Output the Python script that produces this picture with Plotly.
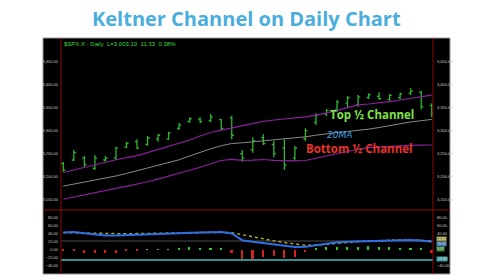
import plotly.graph_objects as go

# ---------------- data ----------------
bar_index = list(range(36))
open_ = [3228, 3236, 3240, 3218, 3236, 3240, 3264, 3276, 3270, 3282, 3282, 3305, 3320, 3325, 3322, 3324,
         3328, 3250, 3258, 3285, 3270, 3262, 3240, 3282, 3318, 3336, 3345, 3360, 3356, 3372, 3375, 3368,
         3372, 3382, 3384, 3355]
high = [3232.3, 3257.8, 3244.8, 3246.9, 3244.8, 3265.0, 3275.9, 3281.2, 3288.4, 3292.7, 3297.7, 3317.4,
        3329.1, 3329.1, 3336.3, 3325.4, 3332.6, 3257.8, 3285.5, 3292.1, 3278.1, 3281.2, 3266.6, 3305.1,
        3337.8, 3346.6, 3366.8, 3375.6, 3377.7, 3381.4, 3383.6, 3379.9, 3382.8, 3392.3, 3386.5, 3359.6]
low = [3210.5, 3233.9, 3221.4, 3214.2, 3232.3, 3236.0, 3261.5, 3260.0, 3267.2, 3275.9, 3279.6, 3301.4,
       3317.4, 3316.0, 3318.2, 3301.4, 3281.2, 3232.3, 3252.0, 3268.7, 3241.9, 3214.2, 3233.9, 3277.5,
       3312.3, 3332.0, 3340.7, 3349.4, 3352.2, 3369.0, 3366.8, 3364.7, 3368.4, 3377.7, 3346.6, 3329.1]
close = [3214, 3252, 3226, 3240, 3240, 3262, 3272, 3262, 3284, 3290, 3295, 3312, 3326, 3320, 3330, 3305,
         3290, 3240, 3278, 3272, 3250, 3225, 3262, 3300, 3334, 3344, 3362, 3372, 3373, 3378, 3370, 3377,
         3380, 3386, 3352, 3338]

upper_channel = [3208.8, 3214.5, 3220.1, 3226.0, 3231.7, 3236.5, 3241.1, 3245.6, 3252.0, 3258.9, 3265.7,
                 3272.0, 3279.6, 3288.4, 3296.0, 3301.0, 3305.8, 3311.0, 3315.8, 3320.2, 3323.2, 3325.2,
                 3327.2, 3330.2, 3333.9, 3338.5, 3343.7, 3350.3, 3356.2, 3358.1, 3360.3, 3363.1, 3366.8,
                 3370.5, 3374.3, 3377.3]
ma20 = [3179.1, 3183.3, 3187.4, 3191.6, 3195.7, 3201.2, 3206.6, 3212.7, 3218.8, 3224.5, 3229.9, 3236.5,
        3244.8, 3252.8, 3260.5, 3267.0, 3272.0, 3273.5, 3275.7, 3277.9, 3280.1, 3281.8, 3284.0, 3286.6,
        3290.1, 3293.8, 3296.0, 3298.2, 3300.3, 3303.2, 3306.9, 3311.2, 3316.0, 3318.9, 3321.7, 3324.5]
lower_channel = [3150.4, 3155.4, 3160.2, 3165.2, 3170.0, 3174.3, 3178.7, 3183.3, 3188.5, 3194.4, 3200.3,
                 3206.6, 3213.6, 3220.3, 3227.8, 3234.9, 3237.3, 3235.2, 3235.6, 3237.1, 3235.2, 3233.9,
                 3233.9, 3234.9, 3240.0, 3244.8, 3249.6, 3254.8, 3259.4, 3263.1, 3264.6, 3265.9, 3267.2,
                 3267.9, 3268.3, 3268.7]

osc_blue = [43.1, 44.6, 41.4, 38.1, 35.6, 35.8, 36.6, 37.1, 37.6, 38.4, 39.4, 41.4, 42.9, 43.6, 44.4, 44.6,
            40.9, 24.0, 20.0, 17.0, 14.2, 9.9, 6.9, 7.7, 11.9, 16.5, 19.0, 20.0, 20.7, 22.3, 23.3, 23.8,
            24.3, 24.5, 23.3, 20.0]
osc_signal = [43.1, 42.6, 41.4, 40.1, 39.6, 39.9, 40.1, 40.6, 40.9, 41.4, 41.9, 42.6, 43.4, 43.9, 44.1,
              43.9, 42.9, 37.6, 32.1, 27.6, 22.5, 18.2, 14.5, 11.2, 11.9, 14.5, 17.0, 19.0, 20.5, 22.0,
              23.3, 24.0, 24.5, 24.3, 23.3, 22.0]
histogram = [-2, -1, -8, -8, -9, -7, -4, -3, 1, 1, 1, 5, 6, 3, 3, 2, -7, -25, -24, -19, -16, -21, -19, -6,
             5, 8, 6, 8, 8, 9, 8, 6, 5, 5, 2, -8]
level_upper = 22
level_lower = -25.8

price_ticks = [3150, 3200, 3250, 3300, 3350, 3400, 3450]
osc_ticks = [-40, -20, 0, 20, 40, 60, 80]
osc_ticks_right = [-40, 40, 60, 80]
price_range = [3127, 3502]
osc_range = [-58.5, 100]
x_range = [-0.22, 35.12]

flag_texts = ["22.04", "20.03", "3.97", "-25.80"]

header_text = "$SPX.X - Daily  L=3,003.10  11.33  0.38%"
title_text = "Keltner Channel on Daily Chart"

W, H = 497, 280
def px(x): return x / W
def py(y): return 1 - y / H

fig = go.Figure()

# channel lines
fig.add_trace(go.Scatter(x=bar_index, y=ma20, mode="lines", line=dict(color="#8a8a8a", width=1),
                         hoverinfo="skip", showlegend=False))
fig.add_trace(go.Scatter(x=bar_index, y=upper_channel, mode="lines", line=dict(color="#8e1f9e", width=1.2),
                         hoverinfo="skip", showlegend=False))
fig.add_trace(go.Scatter(x=bar_index, y=lower_channel, mode="lines", line=dict(color="#8e1f9e", width=1.2),
                         hoverinfo="skip", showlegend=False))
# price bars
fig.add_trace(go.Ohlc(x=bar_index, open=open_, high=high, low=low, close=close, tickwidth=0.2,
                      increasing=dict(line=dict(color="#2fb52f", width=1.3)),
                      decreasing=dict(line=dict(color="#2fb52f", width=1.3)),
                      showlegend=False, hoverinfo="skip"))

# oscillator panel
fig.add_trace(go.Scatter(x=[x_range[0], x_range[1]], y=[level_upper, level_upper], mode="lines",
                         line=dict(color="#4a4a4a", width=1.2), yaxis="y2", showlegend=False, hoverinfo="skip"))
fig.add_trace(go.Scatter(x=[x_range[0], x_range[1]], y=[level_lower, level_lower], mode="lines",
                         line=dict(color="#2a8f8f", width=2), yaxis="y2", showlegend=False, hoverinfo="skip"))
fig.add_trace(go.Bar(x=bar_index, y=histogram, width=0.16, yaxis="y2",
                     marker=dict(color=["#2ecc2e" if v >= 0 else "#d42020" for v in histogram], line=dict(width=0)),
                     showlegend=False, hoverinfo="skip"))
fig.add_trace(go.Scatter(x=bar_index, y=osc_signal, mode="lines", line=dict(color="#a8a832", width=1.5, dash="dot"),
                         yaxis="y2", showlegend=False, hoverinfo="skip"))
fig.add_trace(go.Scatter(x=bar_index, y=osc_blue, mode="lines", line=dict(color="#2f6fe6", width=2),
                         yaxis="y2", showlegend=False, hoverinfo="skip"))
# right-side axes carriers
fig.add_trace(go.Scatter(x=[], y=[], yaxis="y3", showlegend=False))
fig.add_trace(go.Scatter(x=[], y=[], yaxis="y4", showlegend=False))

tickfont = dict(family="Liberation Sans", size=4, color="#c8c8c8")
x0, x1 = px(61), px(433)
fig.update_layout(
    width=W, height=H, margin=dict(l=0, r=0, t=0, b=0),
    paper_bgcolor="white", plot_bgcolor="black", bargap=0,
    xaxis=dict(domain=[x0, x1], range=x_range, visible=False, rangeslider=dict(visible=False), fixedrange=True),
    yaxis=dict(domain=[py(210), py(38)], range=price_range, tickvals=price_ticks, tickformat=",.2f",
               showgrid=False, zeroline=False, tickfont=tickfont, ticks="", ticklabelstandoff=2, side="left"),
    yaxis3=dict(overlaying="y", side="right", range=price_range, tickvals=price_ticks, tickformat=",.2f",
                showgrid=False, zeroline=False, tickfont=tickfont, ticks="", ticklabelstandoff=3, anchor="x"),
    yaxis2=dict(domain=[py(273), py(210)], range=osc_range, tickvals=osc_ticks, tickformat=".2f",
                showgrid=False, zeroline=False, tickfont=tickfont, ticks="", ticklabelstandoff=2, anchor="x"),
    yaxis4=dict(overlaying="y2", side="right", range=osc_range, tickvals=osc_ticks_right, tickformat=".2f",
                showgrid=False, zeroline=False, tickfont=tickfont, ticks="", ticklabelstandoff=3, anchor="x"),
)

shapes = [
    dict(type="rect", xref="paper", yref="paper", x0=px(43), x1=px(450), y0=py(274), y1=py(38),
         fillcolor="black", line=dict(color="#9a9a9a", width=1), layer="below"),
    dict(type="line", xref="paper", yref="paper", x0=px(61), x1=px(61), y0=py(274), y1=py(38),
         line=dict(color="#8b0a0a", width=1)),
    dict(type="line", xref="paper", yref="paper", x0=px(433), x1=px(433), y0=py(274), y1=py(38),
         line=dict(color="#8b0a0a", width=1)),
    dict(type="line", xref="paper", yref="paper", x0=px(43), x1=px(450), y0=py(210), y1=py(210),
         line=dict(color="#8b0a0a", width=1)),
]
fig.update_layout(shapes=shapes)

ann = [
    dict(text="<b>" + title_text + "</b>", xref="paper", yref="paper", x=px(246), y=py(18),
         showarrow=False, font=dict(family="Open Sans", size=20, color="#4aaedc"), xanchor="center", yanchor="middle"),
    dict(text=header_text, xref="paper", yref="paper", x=px(62), y=py(43.5), showarrow=False,
         font=dict(family="Liberation Sans", size=6, color="#3ddc3d"), xanchor="left", yanchor="middle"),
    dict(text="<b>Top ½ Channel</b>", xref="paper", yref="paper", x=px(371.5), y=py(114), showarrow=False,
         font=dict(family="Open Sans", size=11.5, color="#7fe04a"), xanchor="center", yanchor="middle"),
    dict(text="<b>Bottom ½ Channel</b>", xref="paper", yref="paper", x=px(359.5), y=py(148.3), showarrow=False,
         font=dict(family="Open Sans", size=11.5, color="#e8322a"), xanchor="center", yanchor="middle"),
    dict(text="<i>20MA</i>", xref="paper", yref="paper", x=px(339), y=py(134.5), showarrow=False,
         font=dict(family="DejaVu Sans", size=9, color="#3a9fe0"), xanchor="center", yanchor="middle"),
]
# right-side value flags in the oscillator panel
flag_pos = [py(238.8), py(243.8), py(248.8), py(259)]
flag_colors = ["#9a9a3a", "#3a6fb8", "#3c8c3c", "#3a9e9e"]
for t, yy, c in zip(flag_texts, flag_pos, flag_colors):
    ann.append(dict(text=t, xref="paper", yref="paper", x=px(436), y=yy, showarrow=False, xanchor="left",
                    yanchor="middle", bgcolor=c, borderpad=0,
                    font=dict(family="Liberation Sans", size=3.6, color="#e0e0e0")))
fig.update_layout(annotations=ann)

fig.write_html("out.html")
